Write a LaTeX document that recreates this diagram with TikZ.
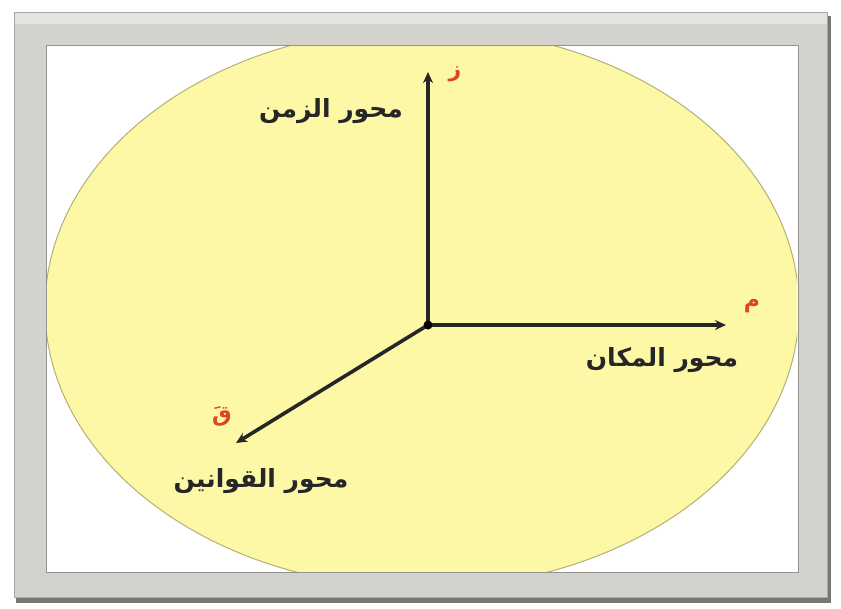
\documentclass[tikz,border=0pt]{standalone}
\usepackage{fontspec}
\usetikzlibrary{arrows.meta}
\TeXXeTstate=1
\newfontfamily\arabicfont[Script=Arabic]{DejaVu Sans}
\definecolor{framegray}{RGB}{212,210,204}
\definecolor{framedark}{RGB}{120,118,114}
\definecolor{framelight}{RGB}{228,227,223}
\definecolor{ellfill}{RGB}{252,248,165}
\definecolor{elledge}{RGB}{180,176,120}
\definecolor{axred}{RGB}{222,70,30}
\tikzset{
  axis/.style={line width=3.6pt, draw=black!85, -{Stealth[length=11pt,width=10pt]}},
  axlabel/.style={font=\arabicfont\bfseries\fontsize{25}{30}\selectfont, text=black!85, inner sep=0pt},
  axletter/.style={font=\arabicfont\bfseries\fontsize{22}{26}\selectfont, text=axred, inner sep=0pt}
}
\begin{document}
\begin{tikzpicture}[x=1pt,y=-1pt]
\useasboundingbox (0,0) rectangle (841,608);
\fill[white] (0,0) rectangle (841,608);
% frame
\fill[framedark] (16,16) rectangle (831,603);
\fill[framegray] (14,12) rectangle (828,598);
\fill[framelight] (14,12) rectangle (828,24);
\draw[framegray!80!black, line width=0.8pt] (14.5,12.5) rectangle (827.5,597.5);
\fill[white] (46,45) rectangle (798,572);
\draw[framegray!70!black, line width=1pt] (46,45) rectangle (798,572);
% ellipse
\begin{scope}
\clip (47,46) rectangle (797,571);
\filldraw[fill=ellfill, draw=elledge, line width=1pt] (422,308) ellipse [x radius=377, y radius=280];
\end{scope}
% axes
\coordinate (O) at (428,325);
\coordinate (Z) at (428,72);
\coordinate (M) at (726,325);
\coordinate (Q) at (236,443);
\draw[axis] (O) -- (Z);
\draw[axis] (O) -- (M);
\draw[axis] (O) -- (Q);
\fill[black] (O) circle (4.5pt);
% labels
\node[axlabel] (lz) at (331,111) {\beginR محور الزمن\endR};
\node[axletter] (tz) at (455,74) {\beginR ز\endR};
\node[axletter] (tm) at (752,306) {\beginR م\endR};
\node[axlabel] (lm) at (662,360) {\beginR محور المكان\endR};
\node[axletter] (tq) at (222,416) {\beginR قَ\endR};
\node[axlabel] (lq) at (261,481) {\beginR محور القوانين\endR};
\end{tikzpicture}
\end{document}
